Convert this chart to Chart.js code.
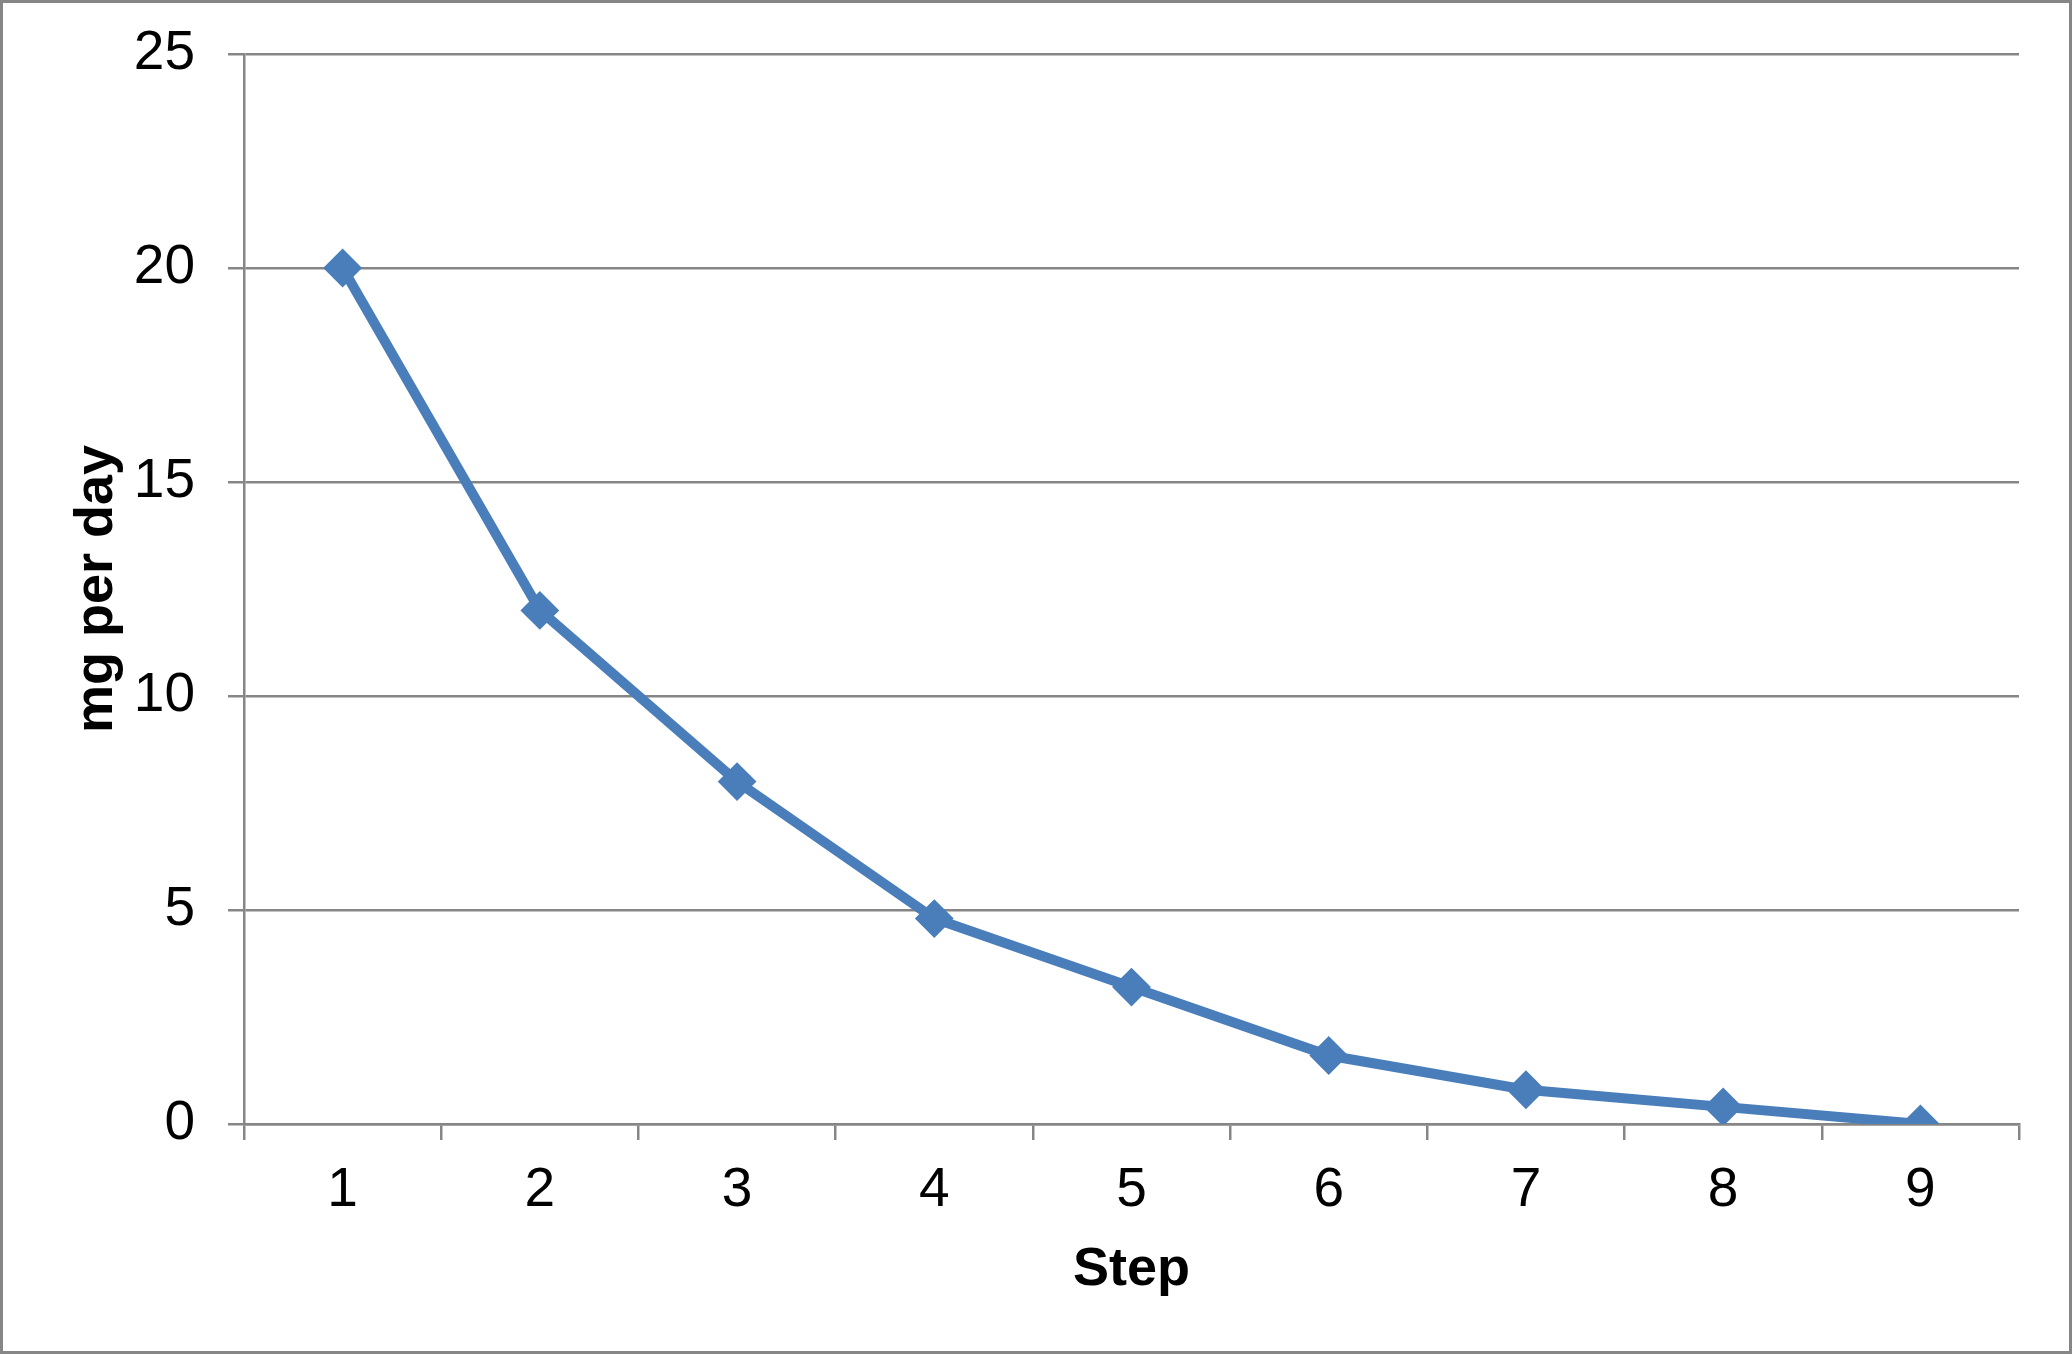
<!DOCTYPE html>
<html>
<head>
<meta charset="utf-8">
<script src="https://cdn.jsdelivr.net/npm/chart.js@4/dist/chart.umd.min.js"></script>
<style>
  html, body { margin: 0; padding: 0; background: #fff; }
  #frame {
    position: absolute; left: 0; top: 0;
    width: 2072px; height: 1354px;
    border: 3px solid #868686; box-sizing: border-box;
  }
  #chart { display: block; }
</style>
</head>
<body>
<div id="frame"><canvas id="chart" width="2066" height="1348"></canvas></div>
<script>
const steps = ["1", "2", "3", "4", "5", "6", "7", "8", "9"];
const mgPerDay = [20, 12, 8, 4.8, 3.2, 1.6, 0.8, 0.4, 0];
const yTicks = [0, 5, 10, 15, 20, 25];

const lineBlue = "#4a7ebb";
const axisGray = "#868686";
const fontFamily = "'Liberation Sans', Arial, sans-serif";

const ctx = document.getElementById("chart");

let doseChart = new Chart(ctx, {
  type: "line",
  data: {
    labels: steps,
    datasets: [
      {
        label: "mg per day",
        data: mgPerDay,
        borderColor: lineBlue,
        backgroundColor: lineBlue,
        borderWidth: 10,
        pointStyle: "rectRot",
        pointRadius: 18,
        pointBorderWidth: 2,
        pointBackgroundColor: lineBlue,
        pointBorderColor: lineBlue,
        tension: 0,
        fill: false,
      },
    ],
  },
  options: {
    responsive: false,
    animation: false,
    layout: { padding: { top: 51, right: 50, bottom: 0, left: 0 } },
    plugins: {
      legend: { display: false },
      tooltip: { enabled: false },
    },
    scales: {
      x: {
        type: "category",
        offset: true,
        grid: {
          offset: true,
          drawOnChartArea: false,
          drawTicks: true,
          tickLength: 16,
          color: axisGray,
          lineWidth: 2.5,
        },
        border: { color: axisGray, width: 2.5 },
        ticks: {
          color: "#000",
          padding: 18,
          font: { family: fontFamily, size: 55 },
          maxRotation: 0,
        },
        title: {
          display: true,
          text: "Step",
          color: "#000",
          font: { family: fontFamily, size: 54, weight: "bold" },
          padding: { top: 0, bottom: 48 },
        },
        afterFit: (scale) => {
          scale.height = 227;
          scale.paddingLeft = 0;
          scale.paddingRight = 0;
        },
      },
      y: {
        min: 0,
        max: 25,
        afterBuildTicks: (scale) => {
          scale.ticks = yTicks.map((v) => ({ value: v }));
        },
        grid: {
          drawTicks: true,
          tickLength: 16,
          color: axisGray,
          lineWidth: 2.5,
        },
        border: { color: axisGray, width: 2.5 },
        ticks: {
          color: "#000",
          padding: 33,
          font: { family: fontFamily, size: 55 },
        },
        title: {
          display: true,
          text: "mg per day",
          color: "#000",
          font: { family: fontFamily, size: 54, weight: "bold" },
          padding: { top: 62, bottom: 0 },
        },
        afterFit: (scale) => {
          scale.width = 241;
          scale.paddingTop = 0;
          scale.paddingBottom = 0;
        },
      },
    },
  },
});
</script>
</body>
</html>
